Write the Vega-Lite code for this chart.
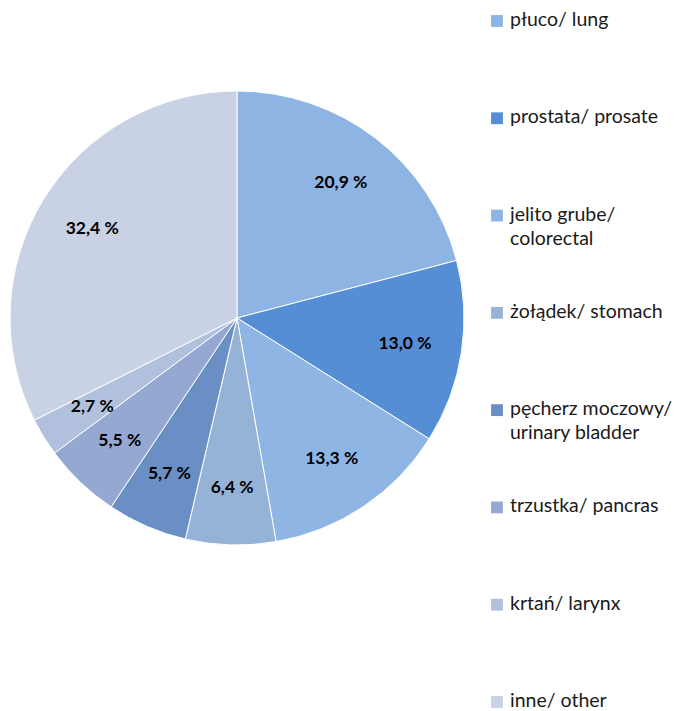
{
  "$schema": "https://vega.github.io/schema/vega-lite/v6.json",
  "padding": 0,
  "spacing": 0,
  "background": "white",
  "config": {"view": {"stroke": null}, "font": "Lato"},
  "data": {"values": [
    {"cat": "płuco/ lung", "label": "płuco/ lung", "value": 20.9, "rank": 1},
    {"cat": "prostata/ prosate", "label": "prostata/ prosate", "value": 13.0, "rank": 2},
    {"cat": "jelito grube/ colorectal", "label": "jelito grube/\ncolorectal", "value": 13.3, "rank": 3},
    {"cat": "żołądek/ stomach", "label": "żołądek/ stomach", "value": 6.4, "rank": 4},
    {"cat": "pęcherz moczowy/ urinary bladder", "label": "pęcherz moczowy/\nurinary bladder", "value": 5.7, "rank": 5},
    {"cat": "trzustka/ pancras", "label": "trzustka/ pancras", "value": 5.5, "rank": 6},
    {"cat": "krtań/ larynx", "label": "krtań/ larynx", "value": 2.7, "rank": 7},
    {"cat": "inne/ other", "label": "inne/ other", "value": 32.4, "rank": 8}
  ]},
  "hconcat": [
    {
      "width": 474,
      "height": 636,
      "encoding": {
        "theta": {"field": "value", "type": "quantitative", "stack": true},
        "order": {"field": "rank", "type": "quantitative"},
        "color": {
          "field": "cat", "type": "nominal", "legend": null,
          "scale": {
            "domain": ["płuco/ lung", "prostata/ prosate", "jelito grube/ colorectal", "żołądek/ stomach", "pęcherz moczowy/ urinary bladder", "trzustka/ pancras", "krtań/ larynx", "inne/ other"],
            "range": ["#8EB4E3", "#558ED5", "#8FB5E4", "#95B3D7", "#6A8FC4", "#95A8D1", "#B0C0DD", "#C9D1E4"]
          }
        }
      },
      "layer": [
        {"mark": {"type": "arc", "outerRadius": 227, "stroke": "white", "strokeWidth": 1}},
        {
          "transform": [
            {"calculate": "replace(format(datum.value, '.1f'), '.', ',') + ' %'", "as": "lbl"}
          ],
          "mark": {"type": "text", "radius": 170, "fontSize": 17.5, "fontWeight": "bold", "font": "Lato", "color": "#000000"},
          "encoding": {
            "text": {"field": "lbl", "type": "nominal"},
            "color": {"value": "#000000"}
          }
        }
      ]
    },
    {
      "width": 46,
      "height": 711,
      "encoding": {
        "y": {
          "field": "cat", "type": "nominal", "axis": null,
          "sort": {"field": "rank"},
          "scale": {"type": "point", "range": [21, 702], "padding": 0}
        }
      },
      "layer": [
        {
          "mark": {"type": "point", "shape": "square", "filled": true, "size": 140, "opacity": 1},
          "encoding": {
            "color": {
              "field": "cat", "type": "nominal", "legend": null,
              "scale": {
                "domain": ["płuco/ lung", "prostata/ prosate", "jelito grube/ colorectal", "żołądek/ stomach", "pęcherz moczowy/ urinary bladder", "trzustka/ pancras", "krtań/ larynx", "inne/ other"],
                "range": ["#8EB4E3", "#558ED5", "#8FB5E4", "#95B3D7", "#6A8FC4", "#95A8D1", "#B0C0DD", "#C9D1E4"]
              }
            }
          }
        },
        {
          "mark": {"type": "text", "align": "left", "baseline": "top", "dx": 13, "dy": -10, "fontSize": 19.5, "lineHeight": 24, "lineBreak": "\n", "color": "#1a1a1a", "font": "Lato"},
          "encoding": {"text": {"field": "label"}}
        }
      ]
    }
  ]
}
